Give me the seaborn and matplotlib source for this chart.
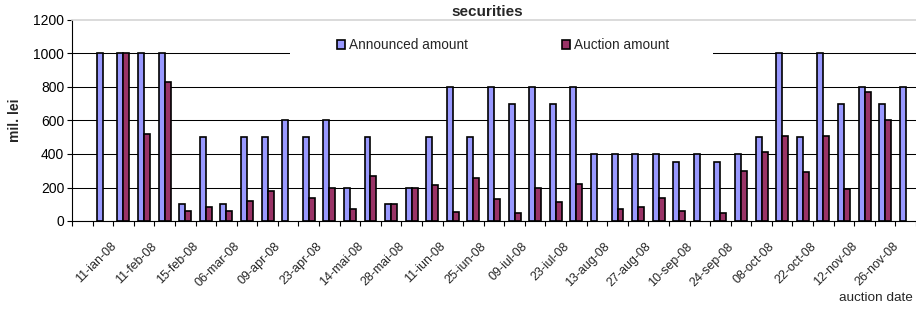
import numpy as np
import pandas as pd
import matplotlib
matplotlib.use("Agg")
import matplotlib.pyplot as plt
import matplotlib.transforms as mtransforms
from matplotlib.patches import Rectangle, Patch
import seaborn as sns

# ------------------------------ DATA ------------------------------
# one slot per auction; only every other date is printed on the axis
dates = ["", "", "11-ian-08", "", "11-feb-08", "", "15-feb-08", "", "06-mar-08", "",
         "09-apr-08", "", "23-apr-08", "", "14-mai-08", "", "28-mai-08", "", "11-iun-08", "",
         "25-iun-08", "", "09-iul-08", "", "23-iul-08", "", "13-aug-08", "", "27-aug-08", "",
         "10-sep-08", "", "24-sep-08", "", "08-oct-08", "", "22-oct-08", "", "12-nov-08", "",
         "26-nov-08"]

announced = [np.nan, 1000, 1000, 1000, 1000, 100, 500, 100, 500, 500,
             600, 500, 600, 200, 500, 100, 200, 500, 800, 500,
             800, 700, 800, 700, 800, 400, 400, 400, 400, 350,
             400, 350, 400, 500, 1000, 500, 1000, 700, 800, 700,
             800]

auction = [np.nan, np.nan, 1000, 520, 830, 60, 85, 58, 120, 180,
           np.nan, 135, 200, 70, 270, 100, 200, 215, 55, 255,
           130, 45, 195, 115, 220, np.nan, 70, 85, 135, 60,
           np.nan, 45, 300, 410, 505, 290, 510, 190, 770, 600,
           np.nan]

series_names = ["Announced amount", "Auction amount"]
series_colors = ["#9999FF", "#993366"]

pos = list(range(len(dates)))
df = pd.DataFrame({
    "pos": pos * 2,
    "value": announced + auction,
    "series": [series_names[0]] * len(pos) + [series_names[1]] * len(pos),
}).dropna()

# ------------------------------ PLOT ------------------------------
sns.set_style("white")
plt.rcParams["font.family"] = ["Liberation Sans", "DejaVu Sans"]

W, H = 916, 309
fig = plt.figure(figsize=(W / 100, H / 100), dpi=100)
ax = fig.add_axes([72 / W, 88 / H, 844 / W, 201 / H])

sns.barplot(data=df, x="pos", y="value", hue="series", order=pos,
            hue_order=series_names, palette=series_colors, width=0.58,
            edgecolor="black", linewidth=1.2, saturation=1, errorbar=None,
            legend=False, ax=ax)

ax.set_xlim(-0.5, 40.03)
ax.set_ylim(0, 1200)
ax.set_yticks(range(0, 1201, 200))
ax.tick_params(axis="y", labelsize=10, length=3.6, width=0.8, direction="out",
               left=True, colors="black", pad=2)

# grid
ax.set_axisbelow(True)
ax.yaxis.grid(True, color="black", linewidth=0.75)
ax.get_ygridlines()[-1].set_visible(False)

# spines
ax.spines["right"].set_visible(False)
ax.spines["top"].set_color("#d4d4d4")
ax.spines["top"].set_linewidth(1.2)
for s in ["left", "bottom"]:
    ax.spines[s].set_color("black")
    ax.spines[s].set_linewidth(0.8)

# x ticks: marks between categories, labels on every other category
ax.set_xticks(np.arange(-0.5, len(dates), 1.0), minor=True)
ax.tick_params(axis="x", which="minor", length=3.6, width=0.8, direction="out",
               bottom=True, colors="black")
lab_pos = [p for p in pos if dates[p]]
ax.set_xticks(lab_pos)
ax.set_xticklabels([dates[p] for p in lab_pos], rotation=45, ha="right",
                   fontsize=9.0)
ax.tick_params(axis="x", which="major", length=0, pad=14)
shift = mtransforms.ScaledTranslation(-5 / 100, 0, fig.dpi_scale_trans)
for lab in ax.get_xticklabels():
    lab.set_transform(lab.get_transform() + shift)

ax.set_xlabel("")
ax.set_ylabel("mil. lei", fontsize=10, fontweight="bold")
ax.yaxis.set_label_coords(-50 / 844, 0.5)

# legend on a white box that hides the 1000 gridline
ax.add_patch(Rectangle((290 / W, 1 - 62 / H), 423 / W, 24 / H,
                       transform=fig.transFigure, facecolor="white",
                       edgecolor="none", zorder=0.7))
handles = [Patch(facecolor=c, edgecolor="black", linewidth=1.2)
           for c in series_colors]
fig.legend(handles, series_names, loc="center", ncol=2,
           bbox_to_anchor=(503 / W, 1 - 45 / H), frameon=False, fontsize=9.8,
           handlelength=0.6, handleheight=0.6, handletextpad=0.3,
           columnspacing=6.9, borderpad=0)

# title (only its last line is inside the picture)
fig.text(487 / W, 1 - 12 / H, "securities", ha="center", va="center",
         fontsize=11, fontweight="bold")

fig.text(913 / W, 1 - 298 / H, "auction date", ha="right", va="center",
         fontsize=9.7)

fig.savefig("out.png", dpi=100)
